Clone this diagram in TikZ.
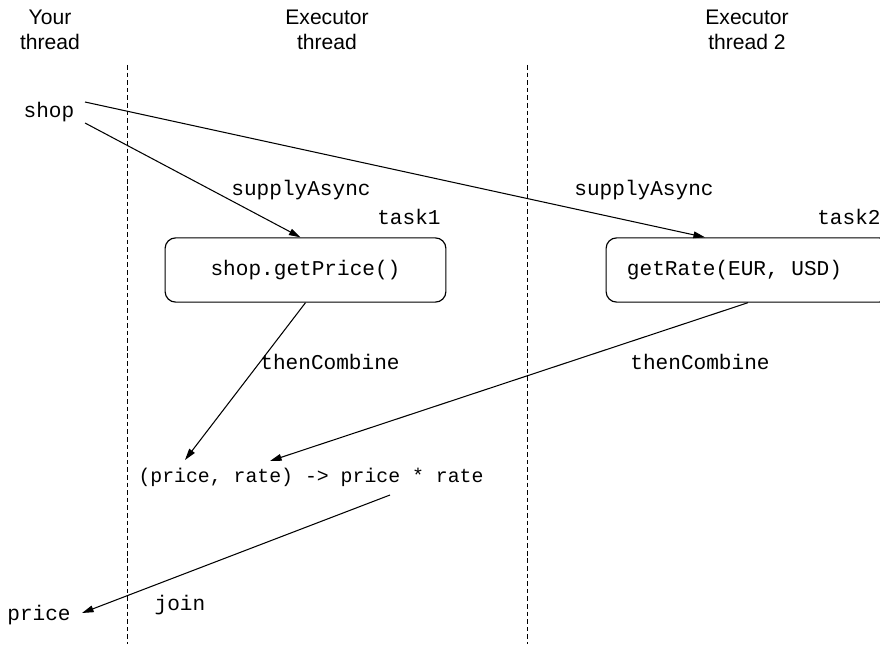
\documentclass[tikz,border=0pt]{standalone}
\usepackage{fontspec}
\setmainfont{Liberation Sans}
\setmonofont{Liberation Mono}
\usepackage{tikz}
\usetikzlibrary{arrows.meta, calc}
\tikzset{
	codetext/.style={font=\ttfamily, inner sep=0pt},
	lanetitle/.style={align=center, inner sep=0pt},
	taskbox/.style={draw, rounded corners=5pt, line width=0.55pt, minimum height=1.07cm, font=\ttfamily},
	flowarr/.style={-{Triangle[length=5.5pt, width=3.2pt]}, line width=0.5pt},
	lanesep/.style={dashed, dash pattern=on 2.2pt off 1.4pt, line width=0.45pt},
}

\begin{document}
\begin{tikzpicture}[x=1cm/60, y=-1cm/60]
	\useasboundingbox (0,0) rectangle (880,644);
	\clip (0,0) rectangle (880,644);

	% Lane titles and separators
	\node[lanetitle] (laneYour) at (50,30) {Your\\thread};
	\node[lanetitle] (laneExec) at (327,30) {Executor\\thread};
	\node[lanetitle] (laneExecB) at (747,30) {Executor\\thread 2};
	\draw[lanesep] (127,65) -- (127,644);
	\draw[lanesep] (527,65) -- (527,644);

	% Tasks
	\node[codetext] (shop) at (49,112) {shop};
	\node[taskbox, minimum width=4.68cm] (task1) at (305.5,270) {shop.getPrice()};
	\node[taskbox, minimum width=4.73cm] (task2) at (748,270) {\hspace*{-0.45cm}getRate(EUR, USD)};
	\node[codetext, anchor=east] (lblTaskA) at (441,217) {task1};
	\node[codetext, anchor=east] (lblTaskB) at (881,217) {task2};

	\draw[flowarr] ($(shop)+(36,-10)$) -- ($(task2.north)+(-43,0)$);
	\draw[flowarr] ($(shop)+(36,11)$) -- ($(task1.north)+(-5,0)$);
	\node[codetext] (supplyA) at (301,190) {supplyAsync};
	\node[codetext] (supplyB) at (644,190) {supplyAsync};

	% Combine and join
	\node[codetext, font=\ttfamily\fontsize{9.4}{11}\selectfont] (combine) at (311,477) {(price, rate) -> price * rate};
	\node[codetext] (price) at (39,615) {price};
	\draw[flowarr] (task1.south) -- ($(combine)+(-126,-17)$);
	\draw[flowarr] (task2.south) -- ($(combine)+(-41,-16)$);
	\node[codetext] (combineA) at (330,362) {thenCombine};
	\node[codetext] (combineB) at (700,362) {thenCombine};
	\draw[flowarr] ($(combine)+(79,18)$) -- ($(price)+(43,-2)$);
	\node[codetext] (joinLbl) at (180,605) {join};
\end{tikzpicture}
\end{document}
